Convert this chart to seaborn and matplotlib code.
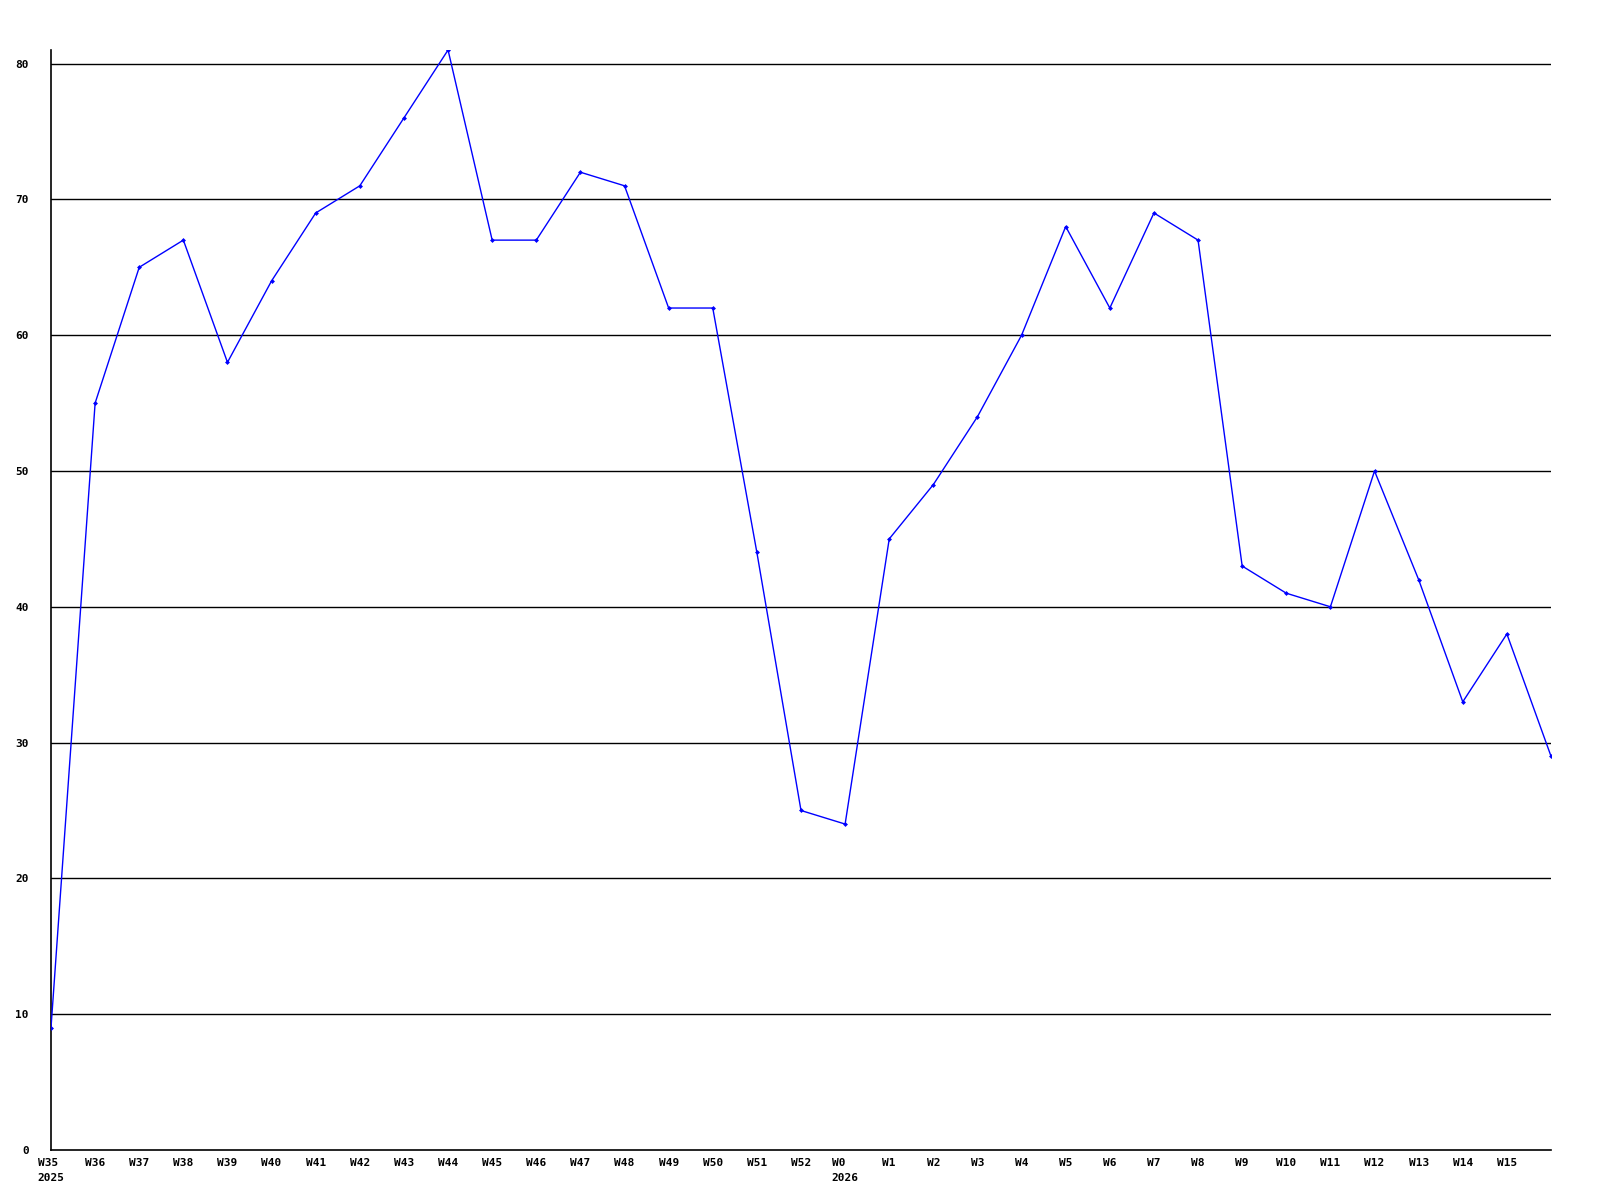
import numpy as np
import pandas as pd
import matplotlib
matplotlib.use("Agg")
import matplotlib.pyplot as plt
import seaborn as sns

# haftalık değerler
weeks = ["W35", "W36", "W37", "W38", "W39", "W40", "W41", "W42", "W43", "W44",
         "W45", "W46", "W47", "W48", "W49", "W50", "W51", "W52", "W0", "W1",
         "W2", "W3", "W4", "W5", "W6", "W7", "W8", "W9", "W10", "W11",
         "W12", "W13", "W14", "W15", ""]
years = {"W35": "2025", "W0": "2026"}
values = [9, 55, 65, 67, 58, 64, 69, 71, 76, 81,
          67, 67, 72, 71, 62, 62, 44, 25, 24, 45,
          49, 54, 60, 68, 62, 69, 67, 43, 41, 40,
          50, 42, 33, 38, 29]

df = pd.DataFrame({"pos": range(len(values)), "value": values})

sns.set_style("white")
plt.rcParams["font.family"] = ["DejaVu Sans Mono"]

fig = plt.figure(figsize=(16, 12), dpi=100)
ax = fig.add_axes([51 / 1600, 50 / 1200, 1500 / 1600, 1100 / 1200])

for y in range(10, 90, 10):
    ax.axhline(y, color="black", linewidth=1, zorder=1)

sns.lineplot(data=df, x="pos", y="value", color="#0000ff", linewidth=1,
             marker="D", markersize=2.5, markeredgewidth=0, ax=ax, zorder=3)

ax.set_xlim(0, len(values) - 1)
ax.set_ylim(0, 81)
ax.set_xticks(range(len(weeks) - 1))
ax.set_xticklabels([w + ("\n" + years[w] if w in years else "") for w in weeks[:-1]],
                   fontsize=8, fontweight="bold", linespacing=1.6, va="top",
                   color="black")
for lab, w in zip(ax.get_xticklabels(), weeks[:-1]):
    if w in years:
        lab.set_multialignment("left")
ax.set_yticks(range(0, 90, 10))
ax.set_yticklabels([str(v) for v in range(0, 90, 10)], fontsize=8,
                   fontweight="bold", color="black")
ax.tick_params(axis="both", length=0)
ax.tick_params(axis="y", pad=16)
ax.tick_params(axis="x", pad=6)
ax.set_xlabel("")
ax.set_ylabel("")
for s in ["top", "right"]:
    ax.spines[s].set_visible(False)
for s in ["left", "bottom"]:
    ax.spines[s].set_color("black")
    ax.spines[s].set_linewidth(1.2)

fig.savefig("out.png", dpi=100, facecolor="white")
